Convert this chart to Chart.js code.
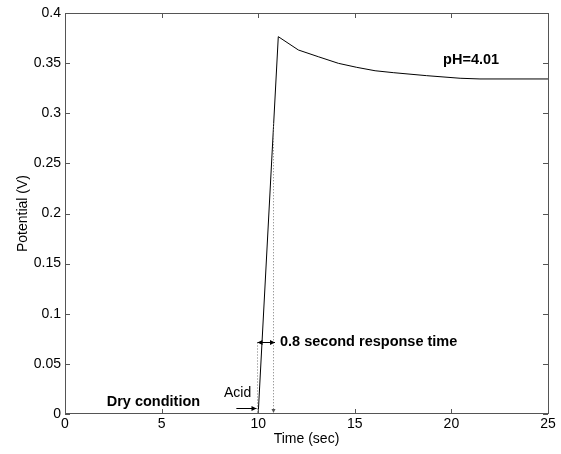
<!DOCTYPE html>
<html>
<head>
<meta charset="utf-8">
<script src="https://cdn.jsdelivr.net/npm/chart.js@4.4.0/dist/chart.umd.min.js"></script>
<style>
  html, body { margin: 0; padding: 0; background: #fff; }
  #chart { display: block; }
</style>
</head>
<body>
<canvas id="chart" width="561" height="454" style="width:561px;height:454px"></canvas>
<script>
// values
const timeSec = [0, 10.0, 11.04, 12.08, 13.11, 14.15, 15.1, 16.05, 16.99, 18.72, 20.45, 21.48, 25];
const potentialV = [0, 0, 0.3764, 0.3631, 0.3564, 0.3498, 0.3458, 0.3424, 0.3405, 0.3375, 0.3349, 0.3342, 0.3342];
const xTicks = [0, 5, 10, 15, 20, 25];
const yTicks = [0, 0.05, 0.1, 0.15, 0.2, 0.25, 0.3, 0.35, 0.4];

// annotation anchors, in data units
const notes = [
    { text: 'Dry condition', x: 2.16, y: 0.0123, bold: true },
    { text: 'Acid', x: 8.23, y: 0.021, bold: false },
    { text: '0.8 second response time', x: 11.13, y: 0.0715, bold: true },
    { text: 'pH=4.01', x: 19.57, y: 0.353, bold: true }
];
const respStart = 9.95;
const respEnd = 10.75;
const respArrowY = 0.0715;

const FONT = 'Arial, "Liberation Sans", sans-serif';
const AXIS = '#555';

const arrowHead = (ctx, x, y, dir, size) => {
    ctx.beginPath();
    if (dir === 'right') { ctx.moveTo(x, y); ctx.lineTo(x - size, y - size / 2); ctx.lineTo(x - size, y + size / 2); }
    if (dir === 'left') { ctx.moveTo(x, y); ctx.lineTo(x + size, y - size / 2); ctx.lineTo(x + size, y + size / 2); }
    if (dir === 'down') { ctx.moveTo(x, y); ctx.lineTo(x - size / 2, y - size); ctx.lineTo(x + size / 2, y - size); }
    ctx.closePath();
    ctx.fill();
}

// matlab style box with inward ticks on all four sides, drawn over the data
const boxPlugin = {
    id: 'box',
    afterDraw(chart) {
        const { ctx, chartArea: a, scales: { x, y } } = chart;
        const L = Math.round(a.left), R = Math.round(a.right), T = Math.round(a.top), B = Math.round(a.bottom);
        ctx.save();
        // axis sits on top of the flat zero segment, like matlab
        ctx.fillStyle = '#fff';
        ctx.fillRect(L + 1, B - 1, R - L - 1, 2);
        ctx.strokeStyle = AXIS;
        ctx.lineWidth = 1;
        ctx.beginPath();
        ctx.moveTo(L + 0.5, T + 0.5); ctx.lineTo(R + 0.5, T + 0.5);
        ctx.lineTo(R + 0.5, B - 0.5); ctx.lineTo(L + 0.5, B - 0.5); ctx.closePath();
        for (const v of xTicks) {
            const px = Math.round(x.getPixelForValue(v)) + 0.5;
            ctx.moveTo(px, B); ctx.lineTo(px, B - 5);
            ctx.moveTo(px, T); ctx.lineTo(px, T + 5);
        }
        for (const v of yTicks) {
            const py = Math.round(y.getPixelForValue(v)) + 0.5;
            ctx.moveTo(L, py); ctx.lineTo(L + 5, py);
            ctx.moveTo(R, py); ctx.lineTo(R - 5, py);
        }
        ctx.stroke();
        ctx.restore();
    }
};

const notesPlugin = {
    id: 'notes',
    afterDatasetsDraw(chart) {
        const { ctx, scales: { x, y } } = chart;
        ctx.save();
        ctx.fillStyle = '#000';
        ctx.textBaseline = 'middle';
        ctx.textAlign = 'left';
        for (const n of notes) {
            ctx.font = (n.bold ? 'bold 14.5px ' : '14px ') + FONT;
            ctx.fillText(n.text, x.getPixelForValue(n.x), y.getPixelForValue(n.y));
        }

        const y0 = y.getPixelForValue(0);
        const xs = Math.round(x.getPixelForValue(respStart)) + 0.5;
        const xe = Math.round(x.getPixelForValue(respEnd)) + 0.5;
        const ya = Math.round(y.getPixelForValue(respArrowY)) + 0.5;

        // dotted guides
        ctx.strokeStyle = '#777';
        ctx.lineWidth = 1;
        ctx.setLineDash([1, 2]);
        ctx.beginPath();
        ctx.moveTo(xs, ya); ctx.lineTo(xs, y0 - 1);
        ctx.moveTo(xe, y.getPixelForValue(0.29)); ctx.lineTo(xe, y0 - 2);
        ctx.stroke();
        ctx.setLineDash([]);
        ctx.fillStyle = '#555';
        arrowHead(ctx, xe, y0 - 1, 'down', 4);

        // response time arrow
        ctx.strokeStyle = '#000';
        ctx.fillStyle = '#000';
        ctx.beginPath();
        ctx.moveTo(xs, ya); ctx.lineTo(x.getPixelForValue(10.87), ya);
        ctx.stroke();
        arrowHead(ctx, xs, ya, 'left', 5);
        arrowHead(ctx, x.getPixelForValue(10.87), ya, 'right', 5);

        // acid arrow
        const yAcid = Math.round(y.getPixelForValue(0.0057)) + 0.5;
        ctx.beginPath();
        ctx.moveTo(x.getPixelForValue(8.87), yAcid); ctx.lineTo(xs - 1, yAcid);
        ctx.stroke();
        arrowHead(ctx, xs - 1, yAcid, 'right', 5);
        ctx.restore();
    }
};

const tickFont = { family: FONT, size: 14 };

new Chart(document.getElementById('chart').getContext('2d'), {
    type: 'line',
    data: {
        datasets: [{
            label: 'pH=4.01',
            data: timeSec.map((t, i) => ({ x: t, y: potentialV[i] })),
            borderColor: '#000',
            borderWidth: 1,
            pointRadius: 0,
            tension: 0,
            fill: false
        }]
    },
    options: {
        responsive: false,
        animation: false,
        layout: { padding: { top: 13, right: 13, left: 0, bottom: 0 } },
        plugins: { legend: { display: false }, tooltip: { enabled: false } },
        scales: {
            x: {
                type: 'linear',
                min: 0,
                max: 25,
                afterBuildTicks: (s) => { s.ticks = xTicks.map(v => ({ value: v })); },
                afterFit: (s) => { s.height = 40; },
                grid: { display: false, drawTicks: false },
                border: { display: false },
                ticks: { font: tickFont, color: '#000', padding: 2, maxRotation: 0 },
                title: { display: true, text: 'Time (sec)', font: tickFont, color: '#000', padding: { top: 0, bottom: 6 } }
            },
            y: {
                min: 0,
                max: 0.4,
                afterBuildTicks: (s) => { s.ticks = yTicks.map(v => ({ value: v })); },
                afterFit: (s) => { s.width = 65; },
                grid: { display: false, drawTicks: false },
                border: { display: false },
                ticks: { font: tickFont, color: '#000', padding: 4, callback: (v) => String(+v.toFixed(2)) },
                title: { display: true, text: 'Potential (V)', font: tickFont, color: '#000', padding: { top: 15, bottom: 0 } }
            }
        }
    },
    plugins: [boxPlugin, notesPlugin]
});
</script>
</body>
</html>
